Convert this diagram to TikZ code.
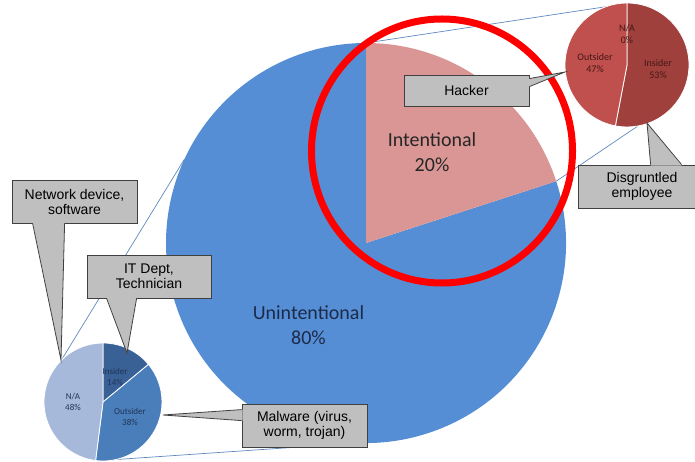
\documentclass[tikz,border=0pt]{standalone}
\usepackage{fontspec}
\setmainfont{Liberation Sans}
\newfontfamily\calfont{Carlito}
\usetikzlibrary{calc}
\definecolor{bigblue}{HTML}{558ED5}
\definecolor{bigpink}{HTML}{D99694}
\definecolor{redIns}{HTML}{A0403D}
\definecolor{redOut}{HTML}{C0504D}
\definecolor{blueIns}{HTML}{3A6196}
\definecolor{blueOut}{HTML}{4A7EBB}
\definecolor{blueNA}{HTML}{A7B9DA}
\definecolor{cgray}{HTML}{BFBFBF}
\definecolor{cborder}{HTML}{404040}
\definecolor{leaderc}{HTML}{5F88BE}
\definecolor{tlabelc}{HTML}{421716}
\definecolor{blabelc}{HTML}{1F3354}
\definecolor{inttext}{HTML}{262626}
\definecolor{unitext}{HTML}{1C2B4A}
\tikzset{
  bigtext/.style={font=\calfont\fontsize{20}{25}\selectfont, align=center, inner sep=0pt},
  tlabel/.style={font=\calfont\fontsize{10}{12}\selectfont, align=center, inner sep=0pt, text=tlabelc},
  blabel/.style={font=\calfont\fontsize{9}{11}\selectfont, align=center, inner sep=0pt, text=blabelc},
  calloutbox/.style={draw=cborder, fill=cgray, line width=0.8pt, font=\fontsize{14}{15}\selectfont, align=center, inner sep=0pt, text=black},
  calloutline/.style={draw=cborder, line width=0.8pt, line join=miter},
  calloutfill/.style={fill=cgray},
  leader/.style={draw=leaderc, line width=0.7pt},
  sep/.style={draw=white, line width=0.8pt},
}
\begin{document}
\begin{tikzpicture}[x=1pt,y=-1pt]
\useasboundingbox (0,0) rectangle (695,462);
\clip (0,0) rectangle (695,462);

% big pie
\coordinate (B) at (366,243);
\fill[bigblue] (B) -- ($(B)+(-18:200)$) arc[start angle=-18,end angle=270,radius=200] -- cycle;
\fill[bigpink] (B) -- ($(B)+(-90:200)$) arc[start angle=-90,end angle=-18,radius=200] -- cycle;
\node[bigtext, text=inttext] (int) at (432,152) {Intentional\\20\%};
\node[bigtext, text=unitext] (uni) at (308.5,325.5) {Unintentional\\80\%};

% small pies centres
\coordinate (T) at (627,65);
\coordinate (S) at (103,402);

% leader lines
\coordinate (L1a) at ($(B)+(-90:200)$);
\coordinate (L1b) at ($(T)+(-110:62)$);
\coordinate (L2a) at ($(B)+(-18:200)$);
\coordinate (L2b) at ($(T)+(80:62)$);
\coordinate (L3a) at ($(B)+(204.8:200)$);
\coordinate (L3b) at ($(S)+(225:59)$);
\coordinate (L4a) at ($(B)+(92:200)$);
\coordinate (L4b) at ($(S)+(95:59)$);
\draw[leader] (L1a) -- (L1b);
\draw[leader] (L2a) -- (L2b);
\draw[leader] (L3a) -- (L3b);
\draw[leader] (L4a) -- (L4b);

% top-right pie
\path[fill=redIns, sep] (T) -- ($(T)+(-90:62)$) arc[start angle=-90,end angle=100.8,radius=62] -- cycle;
\path[fill=redOut, sep] (T) -- ($(T)+(100.8:62)$) arc[start angle=100.8,end angle=270,radius=62] -- cycle;
\node[tlabel] (tna) at (627,34) {N/A\\0\%};
\node[tlabel] (tout) at (595,63) {Outsider\\47\%};
\node[tlabel] (tins) at (658,69) {Insider\\53\%};

% bottom-left pie
\path[fill=blueIns, sep] (S) -- ($(S)+(-90:59)$) arc[start angle=-90,end angle=-39.6,radius=59] -- cycle;
\path[fill=blueOut, sep] (S) -- ($(S)+(-39.6:59)$) arc[start angle=-39.6,end angle=97.2,radius=59] -- cycle;
\path[fill=blueNA, sep] (S) -- ($(S)+(97.2:59)$) arc[start angle=97.2,end angle=270,radius=59] -- cycle;
\node[blabel] (bins) at (115,377) {Insider\\14\%};
\node[blabel] (bout) at (130,417) {Outsider\\38\%};
\node[blabel] (bna) at (73,402) {N/A\\48\%};

% red ring
\draw[red, line width=7pt] (442,151) ellipse[x radius=130.5, y radius=132];

% callouts
\node[calloutbox, minimum width=125pt, minimum height=43pt] (nd) at (74.5,201.5) {Network device,\\software};
\coordinate (ndt) at (61,360);
\fill[calloutfill] ($(nd.south west)+(21,-1)$) -- (ndt) -- ($(nd.south west)+(53,-1)$) -- cycle;
\draw[calloutline] ($(nd.south west)+(21,0)$) -- (ndt) -- ($(nd.south west)+(53,0)$);

\node[calloutbox, minimum width=124pt, minimum height=43pt] (it) at (149,276.5) {IT Dept,\\Technician};
\coordinate (itt) at (127,353);
\fill[calloutfill] ($(it.south west)+(20,-1)$) -- (itt) -- ($(it.south west)+(50,-1)$) -- cycle;
\draw[calloutline] ($(it.south west)+(20,0)$) -- (itt) -- ($(it.south west)+(50,0)$);

\node[calloutbox, minimum width=125pt, minimum height=43pt] (mw) at (304.5,425.5) {Malware (virus,\\worm, trojan)};
\coordinate (mwt) at (163,415);
\fill[calloutfill] ($(mw.north west)+(1,6)$) -- (mwt) -- ($(mw.north west)+(1,17)$) -- cycle;
\draw[calloutline] ($(mw.north west)+(0,6)$) -- (mwt) -- ($(mw.north west)+(0,17)$);

\node[calloutbox, minimum width=125pt, minimum height=31pt] (hk) at (466.5,90.5) {Hacker};
\coordinate (hkt) at (565,72);
\fill[calloutfill] ($(hk.north east)+(-1,4)$) -- (hkt) -- ($(hk.north east)+(-1,12)$) -- cycle;
\draw[calloutline] ($(hk.north east)+(0,4)$) -- (hkt) -- ($(hk.north east)+(0,12)$);

\node[calloutbox, minimum width=128pt, minimum height=43pt] (dg) at (642,186.5) {Disgruntled\\employee};
\coordinate (dgt) at (647,123);
\fill[calloutfill] ($(dg.north west)+(73,1)$) -- (dgt) -- ($(dg.north west)+(104,1)$) -- cycle;
\draw[calloutline] ($(dg.north west)+(73,0)$) -- (dgt) -- ($(dg.north west)+(104,0)$);
\end{tikzpicture}
\end{document}
